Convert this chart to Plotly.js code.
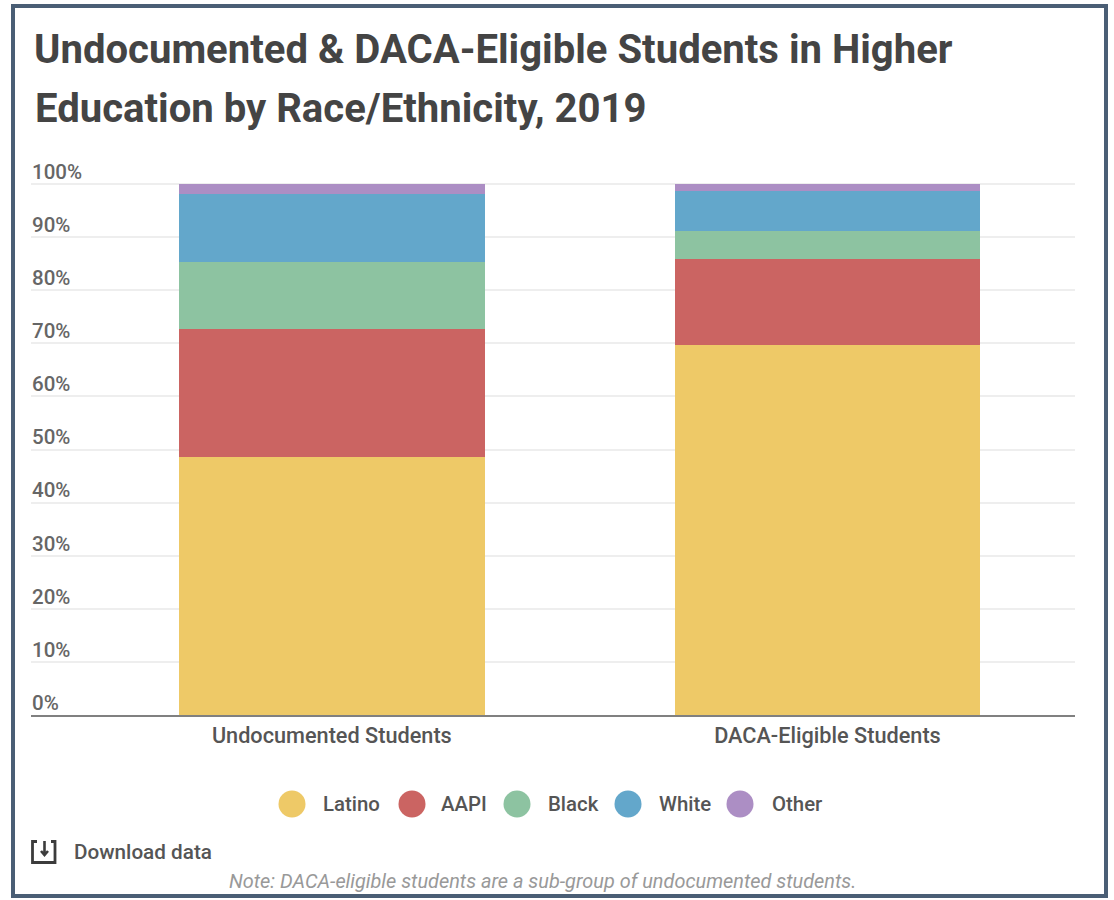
<!DOCTYPE html>
<html><head><meta charset="utf-8">
<script src="https://cdn.plot.ly/plotly-3.0.1.min.js"></script>
<style>html,body{margin:0;padding:0;background:#fff}#c{width:1114px;height:900px}</style>
</head><body><div id="c"></div>
<script>
const categories = ['Undocumented Students', 'DACA-Eligible Students'];
const latino = [48.6, 69.7];
const aapi = [24.1, 16.2];
const black = [12.6, 5.3];
const white = [12.8, 7.4];
const other = [1.9, 1.4];
const seriesNames = ['Latino', 'AAPI', 'Black', 'White', 'Other'];
const seriesValues = [latino, aapi, black, white, other];
const seriesColors = ['#EEC967', '#CB6462', '#8DC3A1', '#63A7CB', '#AC8EC4'];
const legendCx = [292, 412, 517, 628, 740];
const legendTx = [321.5, 439.5, 546.5, 657.5, 770.5];

const W = 1114, H = 900, L = 31, R = 1075, T = 182, B = 715;
const px = x => (x - L) / (R - L);
const py = y => (B - y) / (B - T);
const font = 'Roboto, sans-serif';

const traces = seriesNames.map((n, i) => ({
  type: 'bar', name: n, x: categories, y: seriesValues[i],
  marker: {color: seriesColors[i], line: {width: 0}}, hoverinfo: 'x+y+name'
}));

const shapes = [
  {type: 'rect', xref: 'paper', yref: 'paper', x0: px(13), x1: px(1106), y0: py(6), y1: py(896),
   line: {color: '#4A5E75', width: 4}, fillcolor: 'rgba(0,0,0,0)', layer: 'below'},
  {type: 'path', xref: 'paper', yref: 'paper', line: {color: '#3c3c3c', width: 2.8},
   path: `M${px(37)} ${py(841.5)} L${px(32.5)} ${py(841.5)} L${px(32.5)} ${py(862.5)} L${px(55)} ${py(862.5)} L${px(55)} ${py(841.5)} L${px(51)} ${py(841.5)}`},
  {type: 'path', xref: 'paper', yref: 'paper', line: {color: '#3c3c3c', width: 2.6},
   path: `M${px(44.5)} ${py(841)} L${px(44.5)} ${py(855)} M${px(41)} ${py(851)} L${px(44.5)} ${py(855)} L${px(48)} ${py(851)}`}
];
legendCx.forEach((c, i) => shapes.push({
  type: 'circle', xref: 'paper', yref: 'paper',
  x0: px(c - 13.5), x1: px(c + 13.5), y0: py(804 - 13.5), y1: py(804 + 13.5),
  fillcolor: seriesColors[i], line: {width: 0}
}));

const txt = (t, x, y, f, extra) => Object.assign({
  text: t, xref: 'paper', yref: 'paper', x: px(x), y: py(y), xanchor: 'left', yanchor: 'middle',
  showarrow: false, font: Object.assign({family: font}, f), borderpad: 0
}, extra || {});

const annotations = seriesNames.map((n, i) => txt(n, legendTx[i], 804, {size: 20.4, color: '#555', weight: 500}));
annotations.push(txt('Education by Race/Ethnicity, 2019', 33.5, 109, {size: 40.1, color: '#444', weight: 700}));
annotations.push(txt('Download data', 72.5, 852, {size: 20.7, color: '#555', weight: 500}));
annotations.push(txt('Note: DACA-eligible students are a sub-group of undocumented students.', 542.5, 881,
  {size: 19.9, color: '#999', style: 'italic'}, {xanchor: 'center'}));

const layout = {
  width: W, height: H, autosize: false,
  margin: {l: L, r: W - R, t: T, b: H - B, pad: 0},
  paper_bgcolor: '#fff', plot_bgcolor: '#fff',
  barmode: 'stack', bargap: 0.383, showlegend: false,
  font: {family: font, color: '#555'},
  title: {text: 'Undocumented &amp; DACA-Eligible Students in Higher',
    x: 34 / W, xanchor: 'left', xref: 'container', y: 1 - 49 / H, yanchor: 'middle', yref: 'container',
    font: {family: font, size: 40.1, color: '#444', weight: 700}},
  xaxis: {type: 'category', range: [-0.607, 1.4995], showgrid: false, zeroline: false,
    showline: true, linecolor: '#808080', linewidth: 2, ticks: '', ticklen: 0,
    tickfont: {family: font, size: 21.7, color: '#555', weight: 500}},
  yaxis: {range: [0, 100.377], tick0: 0, dtick: 10, ticksuffix: '%', ticklabelposition: 'inside top',
    ticklabeloverflow: 'allow', ticklabelstandoff: -2, ticklabelshift: 2,
    showgrid: true, gridcolor: '#EEEEEE', gridwidth: 1.5, zeroline: false, showline: false, ticks: '',
    tickfont: {family: font, size: 20.5, color: '#666', weight: 500}},
  shapes, annotations
};
Plotly.newPlot('c', traces, layout, {displayModeBar: false, responsive: false});
</script></body></html>
